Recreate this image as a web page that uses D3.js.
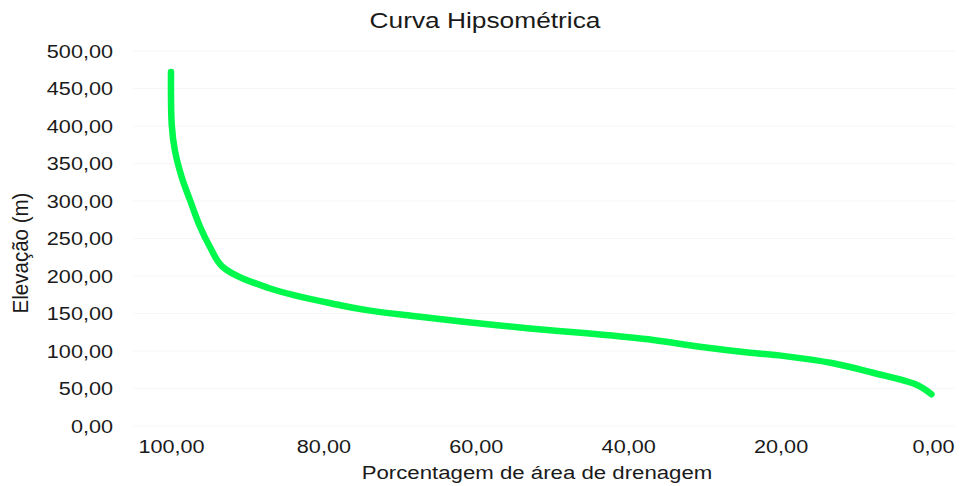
<!DOCTYPE html>
<html>
<head>
<meta charset="utf-8">
<script src="https://cdn.jsdelivr.net/npm/d3@7/dist/d3.min.js"></script>
<style>
  html, body { margin: 0; padding: 0; background: #fff; }
  svg { display: block; }
  text { font-family: "Liberation Sans", Arial, sans-serif; fill: #1a1a1a; }
</style>
</head>
<body>
<svg id="chart" width="968" height="486"></svg>
<script>
// Data: percentage of drainage area (x) vs elevation (y)
const areaPct = [100, 99.9, 99.5, 98.6, 97.5, 96.2, 94.9, 93.2, 87.2, 77.8, 73.9, 68.2, 61.6, 52.9, 45.4, 36.7, 30.6, 24.0, 19.7, 13.1, 7.9, 2.1, 0.2];
const elevation = [472, 401, 368, 332, 301, 266, 239, 212, 184, 161, 153.8, 146.7, 139, 130, 123.6, 114.7, 105.7, 97.7, 93.5, 83.6, 71, 54.7, 42.3];
const xTicks = [100, 80, 60, 40, 20, 0];
const yTicks = [0, 50, 100, 150, 200, 250, 300, 350, 400, 450, 500];
const titleText = "Curva Hipsométrica";
const xLabel = "Porcentagem de área de drenagem";
const yLabel = "Elevação (m)";

const svg = d3.select("#chart");
const sx = 1.17; // horizontal text stretch as seen in the reference
const fmt = d => d.toFixed(2).replace(".", ",");

const x = d3.scaleLinear().domain([100, 0]).range([171, 933]);
const y = d3.scaleLinear().domain([0, 500]).range([426, 51]);
const gridX0 = 133, gridX1 = 955;

// gridlines
svg.append("g").selectAll("line").data(yTicks).join("line")
  .attr("x1", gridX0).attr("x2", gridX1)
  .attr("y1", d => y(d)).attr("y2", d => y(d))
  .attr("stroke", "#f6f6f6").attr("stroke-width", 1);

// y axis
const gy = svg.append("g").attr("transform", `translate(${gridX0},0)`)
  .call(d3.axisLeft(y).tickValues(yTicks).tickFormat(fmt).tickSize(0).tickPadding(0));
gy.select(".domain").remove();
gy.selectAll("text")
  .attr("x", null).attr("dy", "0.35em")
  .attr("transform", `translate(-20,0) scale(${sx},1)`)
  .style("font-size", "18.5px").style("font-family", "Liberation Sans, Arial, sans-serif").attr("fill", "#1a1a1a");

// x axis
const gx = svg.append("g").attr("transform", `translate(0,${y(0)})`)
  .call(d3.axisBottom(x).tickValues(xTicks).tickFormat(fmt).tickSize(0).tickPadding(0));
gx.select(".domain").remove();
gx.selectAll("text")
  .attr("y", null).attr("dy", null)
  .attr("transform", `translate(0,27) scale(${sx},1)`)
  .style("font-size", "18.5px").style("font-family", "Liberation Sans, Arial, sans-serif").attr("fill", "#1a1a1a");

// line
const pts = areaPct.map((p, i) => [p, elevation[i]]);
svg.append("path")
  .datum(pts)
  .attr("fill", "none")
  .attr("stroke", "#00f84c")
  .attr("stroke-width", 6.5)
  .attr("stroke-linecap", "round")
  .attr("stroke-linejoin", "round")
  .attr("d", d3.line().x(d => x(d[0])).y(d => y(d[1])).curve(d3.curveCatmullRom.alpha(0.5)));

// title
svg.append("text")
  .attr("transform", `translate(485,28) scale(${sx},1)`)
  .attr("text-anchor", "middle")
  .style("font-size", "22.5px")
  .text(titleText);

// x label
svg.append("text")
  .attr("transform", `translate(537,479) scale(${sx},1)`)
  .attr("text-anchor", "middle")
  .style("font-size", "19px")
  .text(xLabel);

// y label
svg.append("text")
  .attr("transform", `translate(28,253) rotate(-90) scale(1.08,${sx})`)
  .attr("text-anchor", "middle")
  .style("font-size", "19px")
  .text(yLabel);
</script>
</body>
</html>
